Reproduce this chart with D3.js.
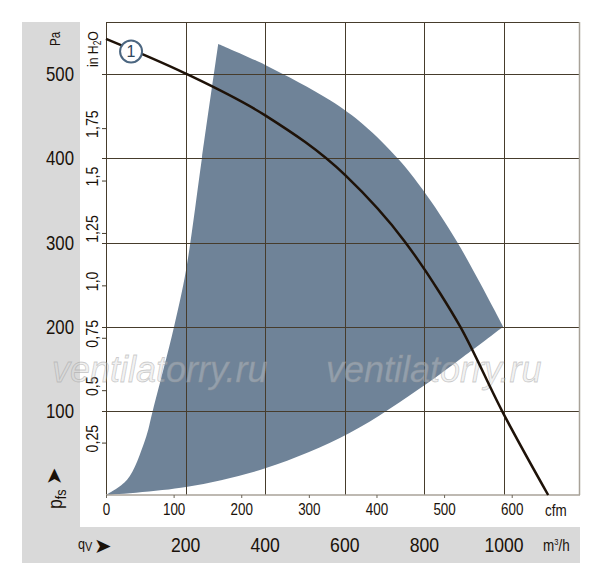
<!DOCTYPE html>
<html>
<head>
<meta charset="utf-8">
<script src="https://cdn.jsdelivr.net/npm/d3@7"></script>
<style>
  body { margin: 0; background: #fff; }
  svg { display: block; }
</style>
</head>
<body>
<div id="viz"></div>
<script>
// curve 1: flow (m3/h) vs static pressure (Pa)
const curveFlow = [0, 199, 400, 601, 751, 839, 890, 995, 1111];
const curvePa   = [542, 501, 451, 380, 301, 240, 200, 100, 0];

// operating range (shaded), three edges
const leftFlow  = [0, 53, 98, 118, 171, 201, 241, 282];
const leftPa    = [0, 18, 65, 101, 200, 267, 400, 536];
const topFlow   = [282, 400, 563, 647, 735, 797, 882, 998];
const topPa     = [536, 511, 469, 440, 399, 362, 301, 200];
const lowFlow   = [998, 897, 802, 613, 402, 201, 0];
const lowPa     = [200, 164, 131, 74, 32, 9.5, 0];

const flowTicks = [200, 400, 600, 800, 1000];
const paTicks   = [100, 200, 300, 400, 500];
const cfmTicks  = [0, 100, 200, 300, 400, 500, 600];
const inchTicks = [0.25, 0.5, 0.75, 1.0, 1.25, 1.5, 1.75];
const inchLabels = ['0,25', '0,5', '0,75', '1,0', '1,25', '1,5', '1,75'];
const curveLabel = { flow: 63, pa: 527, text: '1' };

const M3H_PER_CFM = 1.699;
const PA_PER_INCH = 249.09;

const FONT = '"Liberation Sans", Arial, sans-serif';
const INK = '#1a120a';
const SQUEEZE = 0.84;   // condensed look of the original lettering

const box = { left: 106, top: 22, right: 580, bottom: 495 };
const flowMax = 1191;
const paMax = 562;

const svg = d3.select('#viz').append('svg')
  .attr('width', 600)
  .attr('height', 583);

const x = d3.scaleLinear().domain([0, flowMax]).range([box.left, box.right]);
const y = d3.scaleLinear().domain([0, paMax]).range([box.bottom, box.top]);
const xCfm = d3.scaleLinear().domain([0, flowMax / M3H_PER_CFM]).range([box.left, box.right]);
const yIn = d3.scaleLinear().domain([0, paMax / PA_PER_INCH]).range([box.bottom, box.top]);

function place(px, py, rotated) {
  return `translate(${px},${py})${rotated ? ' rotate(-90)' : ''} scale(${SQUEEZE},1)`;
}

function label(px, py, size, rotated) {
  return svg.append('text')
    .attr('transform', place(px, py, rotated))
    .attr('font-family', FONT)
    .attr('font-size', size)
    .attr('fill', INK);
}

// grey panels
svg.append('rect').attr('x', 22).attr('y', 22).attr('width', 58).attr('height', 541).attr('fill', '#d9d9d9');
svg.append('rect').attr('x', 22).attr('y', 527).attr('width', 558).attr('height', 36).attr('fill', '#d9d9d9');

// shaded range
const edge = d3.line().x(d => x(d[0])).y(d => y(d[1])).curve(d3.curveCatmullRom.alpha(0.5));
const p1 = edge(d3.zip(leftFlow, leftPa));
const p2 = edge(d3.zip(topFlow, topPa)).replace(/^M/, 'L');
const p3 = edge(d3.zip(lowFlow, lowPa)).replace(/^M/, 'L');
svg.append('path')
  .attr('d', p1 + p2 + p3 + 'Z')
  .attr('fill', '#6f8398');

// grid
const grid = svg.append('g').attr('stroke', '#463c2c').attr('stroke-width', 1);
grid.selectAll('.v').data(flowTicks).join('line')
  .attr('x1', d => Math.round(x(d)) + 0.5).attr('x2', d => Math.round(x(d)) + 0.5)
  .attr('y1', box.top).attr('y2', box.bottom);
grid.selectAll('.h').data(paTicks).join('line')
  .attr('x1', box.left - 4).attr('x2', box.right)
  .attr('y1', d => Math.round(y(d)) + 0.5).attr('y2', d => Math.round(y(d)) + 0.5);

// frame
svg.append('line').attr('x1', box.left).attr('x2', box.right).attr('y1', box.top + 0.5).attr('y2', box.top + 0.5)
  .attr('stroke', '#463c2c');
svg.append('line').attr('x1', box.left + 0.5).attr('x2', box.left + 0.5).attr('y1', box.top).attr('y2', box.bottom)
  .attr('stroke', '#463c2c');
svg.append('line').attr('x1', box.right - 0.5).attr('x2', box.right - 0.5).attr('y1', box.top).attr('y2', box.bottom)
  .attr('stroke', '#a8a298').attr('stroke-width', 1.5);
svg.append('line').attr('x1', box.left).attr('x2', box.right).attr('y1', box.bottom).attr('y2', box.bottom)
  .attr('stroke', '#a8a298').attr('stroke-width', 1.5);

// cfm axis
const cfmAxis = svg.append('g').attr('transform', `translate(0,${box.bottom})`)
  .call(d3.axisBottom(xCfm).tickValues(cfmTicks).tickSize(3).tickPadding(6).tickFormat(d3.format('d')));
cfmAxis.select('.domain').remove();
cfmAxis.selectAll('line').attr('stroke', '#6b6458');
cfmAxis.selectAll('text')
  .attr('font-family', FONT).attr('font-size', 16).attr('fill', INK)
  .attr('transform', `scale(${SQUEEZE},1)`)
  .attr('x', 0);
label(545, 516, 16, false).text('cfm');

// in H2O axis
const inAxis = svg.append('g').attr('transform', `translate(${box.left},0)`)
  .call(d3.axisLeft(yIn).tickValues(inchTicks).tickSize(4).tickFormat(''));
inAxis.select('.domain').remove();
inAxis.selectAll('line').attr('stroke', '#463c2c');
svg.selectAll('.inlab').data(inchTicks).join('text')
  .attr('transform', d => place(98, yIn(d) - 4, true))
  .attr('text-anchor', 'middle')
  .attr('font-family', FONT)
  .attr('font-size', 17)
  .attr('fill', INK)
  .text((d, i) => inchLabels[i]);
const inH = label(98, 67, 14.5, true);
inH.append('tspan').text('in H');
inH.append('tspan').attr('font-size', 10).attr('dy', 3).text('2');
inH.append('tspan').attr('dy', -3).text('O');

// Pa labels
svg.selectAll('.palab').data(paTicks).join('text')
  .attr('transform', d => place(74, y(d) + 7, false))
  .attr('text-anchor', 'end')
  .attr('font-family', FONT)
  .attr('font-size', 20).attr('fill', INK)
  .text(d => d);
label(60, 46, 14, true).text('Pa');

// p_fs label
svg.append('text')
  .attr('transform', 'translate(61,485) rotate(-90)')
  .attr('font-family', 'DejaVu Sans').attr('font-size', 21).attr('fill', INK).text('➤');
const pfs = label(62, 509, 21, true);
pfs.append('tspan').text('p');
pfs.append('tspan').attr('font-size', 15).attr('dy', 4).text('fs');

// m3/h labels
svg.selectAll('.qlab').data(flowTicks).join('text')
  .attr('transform', d => place(x(d), 552, false))
  .attr('text-anchor', 'middle')
  .attr('font-family', FONT)
  .attr('font-size', 21).attr('fill', INK)
  .text(d => d);
const qv = label(78, 549, 15, false);
qv.append('tspan').text('q');
qv.append('tspan').attr('font-size', 13).attr('dy', 2).text('V');
svg.append('text').attr('x', 94).attr('y', 553)
  .attr('font-family', 'DejaVu Sans').attr('font-size', 21).attr('fill', INK).text('➤');
const unit = label(543, 551, 16, false);
unit.append('tspan').text('m');
unit.append('tspan').attr('font-size', 9).attr('dy', -6).text('3');
unit.append('tspan').attr('dy', 6).text('/h');

// watermark
svg.selectAll('.wm').data([52, 326]).join('text')
  .attr('x', d => d).attr('y', 382)
  .attr('font-family', FONT)
  .attr('font-style', 'italic')
  .attr('font-size', 36)
  .attr('fill', 'rgba(215,215,215,0.35)')
  .attr('stroke', 'rgba(150,150,150,0.45)')
  .attr('stroke-width', 0.8)
  .text('ventilatorry.ru');

// fan curve
svg.append('path')
  .datum(d3.zip(curveFlow, curvePa))
  .attr('d', d3.line().x(d => x(d[0])).y(d => y(d[1])).curve(d3.curveMonotoneX))
  .attr('fill', 'none')
  .attr('stroke', '#1e1208')
  .attr('stroke-width', 2.5);

// curve marker
const mk = svg.append('g').attr('transform', `translate(${x(curveLabel.flow)},${y(curveLabel.pa)})`);
mk.append('circle').attr('r', 11).attr('fill', '#fff').attr('stroke', '#4b6680').attr('stroke-width', 2);
mk.append('text').attr('text-anchor', 'middle').attr('y', 6)
  .attr('font-family', FONT).attr('font-size', 16)
  .attr('fill', '#2f465c').text(curveLabel.text);
</script>
</body>
</html>
